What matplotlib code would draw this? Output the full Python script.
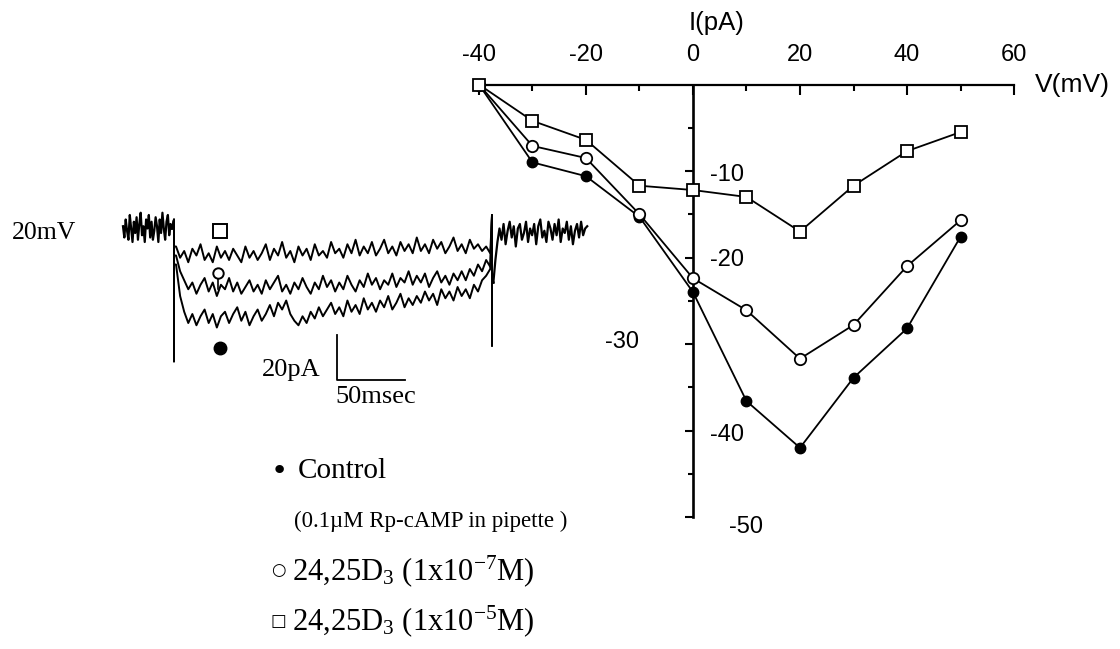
import numpy as np
import matplotlib
matplotlib.use("Agg")
import matplotlib.pyplot as plt

# ---------------- I-V relationship ----------------
voltage = [-40, -30, -20, -10, 0, 10, 20, 30, 40, 50]           # mV
i_control = [0, -9.0, -10.6, -15.3, -24.0, -36.6, -42.0, -33.9, -28.2, -17.6]   # pA
i_d3_low = [0, -7.1, -8.5, -15.0, -22.4, -26.1, -31.7, -27.8, -21.0, -15.7]     # 1e-7 M
i_d3_high = [0, -4.2, -6.4, -11.7, -12.2, -13.0, -17.0, -11.7, -7.7, -5.5]      # 1e-5 M

x_ticks = [-40, -20, 0, 20, 40, 60]
x_minor = [-30, -10, 10, 30, 50]
y_ticks = [-10, -20, -30, -40, -50]
y_minor = [-5, -15, -25, -35, -45]

# ---------------- current traces (pA vs ms) ----------------
dt_pre = 1.0
trace_pre = [3, -2, 6, 1, -3, 8, 2, -4, 5, 0,
             7, -3, 4, 9, -1, 3, -4, 6, 2, 8,
             -2, 5, -3, 1, 7, 3, -4, 6, 0, 9,
             2, -3, 5, 8, -1, 4, 2]
pulse_on, pulse_off = 37.5, 271.3
spike_on = (6, -57)
spike_off = (8, -50)
dt_pulse = 3.0
trace_control = [
    -14, -28, -35, -40, -36, -41, -37, -34, -40, -36,
    -42, -37, -35, -40, -36, -33, -39, -35, -41, -37,
    -34, -39, -36, -32, -37, -31, -34, -30, -36, -39,
    -41, -37, -40, -35, -38, -33, -37, -34, -31, -36,
    -33, -37, -30, -35, -32, -36, -29, -34, -31, -35,
    -30, -33, -28, -34, -31, -27, -33, -29, -32, -28,
    -31, -26, -30, -27, -32, -25, -29, -26, -30, -24,
    -28, -25, -29, -23, -26, -21, -19, -16]
trace_low = [
    -10, -17, -21, -25, -22, -27, -23, -20, -26, -22,
    -28, -23, -25, -20, -26, -22, -27, -24, -21, -26,
    -23, -27, -21, -25, -22, -19, -26, -23, -27, -22,
    -25, -20, -24, -27, -22, -25, -19, -24, -21, -26,
    -22, -25, -19, -23, -26, -21, -24, -18, -23, -20,
    -25, -21, -23, -18, -24, -20, -22, -17, -23, -19,
    -22, -18, -24, -20, -17, -22, -19, -23, -18, -21,
    -17, -21, -16, -19, -14, -17, -12, -15]
trace_high = [
    -6, -11, -8, -13, -7, -10, -5, -12, -9, -13,
    -6, -11, -8, -12, -7, -10, -13, -6, -11, -8,
    -12, -9, -5, -12, -7, -10, -4, -11, -8, -13,
    -6, -10, -7, -12, -5, -10, -8, -11, -4, -9,
    -7, -11, -5, -9, -3, -10, -6, -9, -4, -10,
    -7, -3, -9, -6, -10, -4, -8, -5, -9, -2,
    -8, -5, -9, -3, -7, -4, -9, -6, -2, -8,
    -5, -9, -3, -7, -5, -8, -6, -9]
dt_post = 1.5
trace_post = [-22, -12, -4, 2, -3, 4, -5, 1, 5, -2,
              3, -6, 2, 4, -3, 0, 5, -4, 2, -1,
              4, -5, 3, 6, -2, 1, -4, 5, 2, -3,
              4, -1, 6, -4, 2, 0, 5, -3, 3, -5,
              1, 4, -2, 5, -1, 2, 3]
scale_bar_pa = 20
scale_bar_ms = 50

plt.rcParams['font.family'] = ['Liberation Sans', 'DejaVu Sans']
plt.rcParams['mathtext.fontset'] = 'custom'
plt.rcParams['mathtext.rm'] = 'Liberation Serif'
plt.rcParams['mathtext.it'] = 'Liberation Serif:italic'
SERIF = ['Liberation Serif', 'DejaVu Serif']
GLYPH = ['DejaVu Sans']

fig = plt.figure(figsize=(11.2, 6.49), dpi=100)
fig.patch.set_facecolor('white')

# ---- main I-V axes, axes crossing at the origin ----
ax = fig.add_axes([0, 0, 1, 1])
ax.set_facecolor('none')
ax.set_xlim(-129.5, 79.8)
ax.set_ylim(-65.26, 9.77)
for s in ('top', 'right'):
    ax.spines[s].set_visible(False)
ax.spines['left'].set_position(('data', 0))
ax.spines['left'].set_bounds(-50, 0)
ax.spines['left'].set_linewidth(1.9)
ax.spines['bottom'].set_position(('data', 0))
ax.spines['bottom'].set_bounds(-40, 60)
ax.spines['bottom'].set_linewidth(1.6)
ax.set_xticks(x_ticks)
ax.set_xticks(x_minor, minor=True)
ax.set_yticks(y_ticks)
ax.set_yticks(y_minor, minor=True)
ax.tick_params(axis='both', which='both', direction='out', width=1.5,
               labelbottom=False, labelleft=False)
ax.tick_params(axis='x', which='major', length=7)
ax.tick_params(axis='x', which='minor', length=4.5)
ax.tick_params(axis='y', which='major', length=6)
ax.tick_params(axis='y', which='minor', length=3.5)

ax.plot(voltage, i_control, color='black', lw=1.3, marker='o', ms=7.5,
        mfc='black', mec='black', zorder=3, clip_on=False)
ax.plot(voltage, i_d3_low, color='black', lw=1.3, marker='o', ms=8.2,
        mfc='white', mec='black', mew=1.3, zorder=4, clip_on=False)
ax.plot(voltage, i_d3_high, color='black', lw=1.3, marker='s', ms=8.2,
        mfc='white', mec='black', mew=1.3, zorder=5, clip_on=False)

tick_fs = 17
for v in x_ticks:
    ax.text(v, 3.4, f"{v}", ha='center', va='center', fontsize=tick_fs)
y_label_pos = {-10: (6.4, -10.5), -20: (6.4, -20.3), -30: (-13.3, -29.8),
               -40: (6.4, -40.5), -50: (9.9, -51.2)}
for v in y_ticks:
    lx, ly = y_label_pos[v]
    ax.text(lx, ly, f"{v}", ha='center', va='center', fontsize=tick_fs)
ax.text(4.5, 7.1, "I(pA)", ha='center', va='center', fontsize=18.5)
ax.text(63.9, 0, "V(mV)", ha='left', va='center', fontsize=19)

# ---- inset with current traces ----
ins = fig.add_axes([100 / 1120, 1 - 400 / 649, 500 / 1120, 210 / 649])
ins.set_xlim(-16.9, 350.7)
ins.set_ylim(-74.2, 19.1)
ins.axis('off')

t_pre = dt_pre * np.arange(len(trace_pre))
t_post = pulse_off + 1.0 + dt_post * np.arange(len(trace_post))
ins.plot(t_pre, trace_pre, color='black', lw=1.6)
ins.plot(t_post, trace_post, color='black', lw=1.6)
for trace in (trace_control, trace_low, trace_high):
    t_pulse = pulse_on + 1.5 + dt_pulse * np.arange(len(trace))
    t = np.concatenate([[t_pre[-1], pulse_on, pulse_on, pulse_on], t_pulse,
                        [pulse_off, pulse_off, pulse_off, t_post[0]]])
    y = np.concatenate([[trace_pre[-1], spike_on[0], spike_on[1], trace[0]], trace,
                        [spike_off[0], spike_off[1], trace_post[0], trace_post[0]]])
    ins.plot(t, y, color='black', lw=1.4)

ins.plot([71.3], [0.8], marker='s', ms=9.5, mfc='white', mec='black', mew=1.4,
         clip_on=False)
ins.plot([69.5, 69.5], [-19.5, -25.0], color='black', lw=1.2)
ins.plot([69.5], [-17.8], marker='o', ms=7.5, mfc='white', mec='black', mew=1.4,
         clip_on=False)
ins.plot([71.0], [-51.1], marker='o', ms=9, mfc='black', mec='black',
         clip_on=False)

bar_t0, bar_y0 = 157.0, -65.3
ins.plot([bar_t0, bar_t0, bar_t0 + scale_bar_ms],
         [bar_y0 + scale_bar_pa, bar_y0, bar_y0], color='black', lw=1.3,
         clip_on=False)
ins.text(144.9, -61.0, "20pA", ha='right', va='center', fontsize=19, family=SERIF)
ins.text(155.9, -73.0, "50msec", ha='left', va='center', fontsize=19, family=SERIF)
ins.text(-81.6, 0, "20mV", ha='left', va='center', fontsize=18.5, family=SERIF)

# ---- legend text block ----
def fx(px):
    return px / 1120


def fy(py):
    return 1 - py / 649


fig.text(fx(279), fy(471), "\u2022", ha='center', va='center', fontsize=21, family=GLYPH)
fig.text(fx(298), fy(471), "Control", ha='left', va='center', fontsize=21, family=SERIF)
fig.text(fx(294), fy(521), "(0.1\u00b5M Rp-cAMP in pipette )", ha='left', va='center',
         fontsize=16.5, family=SERIF)
fig.text(fx(278), fy(570), "\u25cb", ha='center', va='center', fontsize=12, family=GLYPH)
fig.text(fx(292), fy(571), r"24,25D$_3$ (1x10$^{-7}$M)", ha='left', va='center',
         fontsize=22, family=SERIF)
fig.text(fx(278), fy(621), "\u25a1", ha='center', va='center', fontsize=12, family=GLYPH)
fig.text(fx(292), fy(621), r"24,25D$_3$ (1x10$^{-5}$M)", ha='left', va='center',
         fontsize=22, family=SERIF)

fig.savefig("out.png", dpi=100, facecolor='white')
